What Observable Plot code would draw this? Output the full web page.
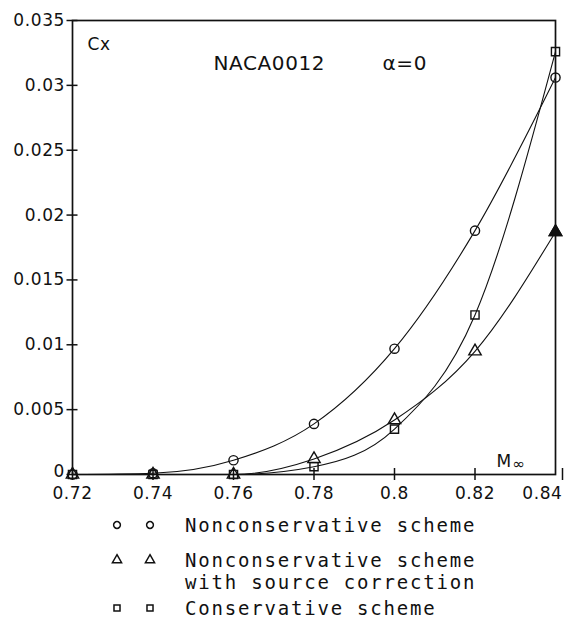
<!DOCTYPE html>
<html><head><meta charset="utf-8">
<script src="https://cdn.jsdelivr.net/npm/d3@7"></script>
<script src="https://cdn.jsdelivr.net/npm/@observablehq/plot@0.6"></script>
<style>
body{margin:0;background:#fff;}
#wrap{position:relative;width:571px;height:623px;overflow:hidden;background:#fff;}
#chart{position:absolute;left:0;top:0;}
#legend{position:absolute;left:0;top:505px;width:571px;height:118px;font-family:"DejaVu Sans Mono",monospace;font-size:19px;letter-spacing:1.8px;color:#111;}
.sym{position:absolute;}
.lab{position:absolute;left:185px;white-space:pre;line-height:22px;}
</style>
</head><body>
<div id="wrap"><div id="chart"></div><div id="legend"></div></div>
<script>
// ---- data ----
const mach = [0.72, 0.74, 0.76, 0.78, 0.80, 0.82, 0.84];
const cxNonconservative = [0, 0.0001, 0.0011, 0.0039, 0.0097, 0.0188, 0.0306];
const cxSourceCorrection = [0, 0, 0, 0.0012, 0.0042, 0.0095, 0.0187];
const cxConservative = [0, 0, 0, 0.0006, 0.0035, 0.0123, 0.0326];
const seriesNames = ["Nonconservative scheme", "Nonconservative scheme\nwith source correction", "Conservative scheme"];
const seriesSymbols = ["circle", "triangle", "square"];
const xTicks = [0.72, 0.74, 0.76, 0.78, 0.80, 0.82, 0.84];
const xTickLabels = ["0.72", "0.74", "0.76", "0.78", "0.8", "0.82", "0.84"];
const yTicks = [0, 0.005, 0.01, 0.015, 0.02, 0.025, 0.03, 0.035];
const yTickLabels = ["0", "0.005", "0.01", "0.015", "0.02", "0.025", "0.03", "0.035"];
const titleText = "NACA0012";
const alphaText = "α=0";
const yName = "Cx";
const xName = "M";
const xSub = "∞";

const seriesValues = [cxNonconservative, cxSourceCorrection, cxConservative];
const data = seriesValues.flatMap((vals, s) => vals.map((v, i) => ({x: mach[i], y: v, series: seriesNames[s]})));
const lastX = d3.max(mach);
const filled = data.filter(d => d.series === seriesNames[1] && d.x === lastX);
const xTicksInner = xTicks.filter(t => t !== lastX);
const xTicksLast = xTicks.filter(t => t === lastX);
const yTicksZero = yTicks.filter(t => t === 0);

const ink = "#111";
const xFmt = d => xTickLabels[xTicks.indexOf(d)];
const yFmt = d => yTickLabels[yTicks.indexOf(d)];
const chart = Plot.plot({
  width: 571, height: 505,
  marginLeft: 72, marginRight: 16, marginTop: 20, marginBottom: 31,
  x: {domain: [0.72, 0.84], label: null},
  y: {domain: [0, 0.035], label: null},
  symbol: {domain: seriesNames, range: seriesSymbols},
  style: {fontFamily: "DejaVu Sans", fontSize: "17px", color: ink, background: "white", letterSpacing: "0.6px"},
  marks: [
    Plot.frame({stroke: ink, strokeWidth: 1.7}),
    Plot.axisY(yTicks, {tickSize: 11, dx: 5.5, tickPadding: 2, strokeWidth: 1.5, label: null,
      tickFormat: d => d === 0 ? "" : yFmt(d)}),
    Plot.axisY(yTicksZero, {tickSize: 0, dx: -5.5, dy: -3, tickPadding: 2, strokeWidth: 0, label: null, tickFormat: yFmt}),
    Plot.axisX(xTicksInner, {tickSize: 12, dy: -6, tickPadding: 6, strokeWidth: 1.5, label: null, tickFormat: xFmt}),
    Plot.axisX(xTicksLast, {tickSize: 12, dy: -6, tickPadding: 6, strokeWidth: 1.5, label: null, tickFormat: xFmt, textAnchor: "end", dx: 7}),
    Plot.line(data, {x: "x", y: "y", z: "series", curve: "monotone-x", stroke: ink, strokeWidth: 1.1}),
    Plot.dot(data, {x: "x", y: "y", symbol: "series", r: 4.6, stroke: ink, strokeWidth: 1.4, fill: "none"}),
    Plot.dot(filled, {x: "x", y: "y", symbol: "series", r: 4.6, stroke: ink, strokeWidth: 1.4, fill: ink}),
    Plot.text([yName], {text: d => d, frameAnchor: "top-left", dx: 15, dy: 17, textAnchor: "start", lineAnchor: "top", fontSize: 17}),
    Plot.text([titleText], {text: d => d, frameAnchor: "top-left", dx: 141, dy: 35, textAnchor: "start", lineAnchor: "top", fontSize: 20, letterSpacing: "1.2px"}),
    Plot.text([alphaText], {text: d => d, frameAnchor: "top-left", dx: 310, dy: 35, textAnchor: "start", lineAnchor: "top", fontSize: 20}),
    Plot.text([xName], {text: d => d, frameAnchor: "bottom-left", dx: 424, dy: -8, textAnchor: "start", lineAnchor: "bottom", fontSize: 17, letterSpacing: "0px"}),
    Plot.text([xSub], {text: d => d, frameAnchor: "bottom-left", dx: 440, dy: -6, textAnchor: "start", lineAnchor: "bottom", fontSize: 15, letterSpacing: "0px"})
  ]
});
document.getElementById("chart").appendChild(chart);

// ---- legend below the chart ----
const legend = document.getElementById("legend");
const rowCenters = [20, 55, 103];
const symX = [117, 150];
const symMap = {circle: d3.symbolCircle, triangle: d3.symbolTriangle, square: d3.symbolSquare};
const symArea = 3.4 * 3.4 * Math.PI;
seriesNames.forEach((name, s) => {
  const cy = rowCenters[s];
  symX.forEach(cx => {
    const svg = d3.create("svg").attr("class", "sym").attr("width", 14).attr("height", 14)
      .style("left", (cx - 7) + "px").style("top", (cy - 7) + "px");
    svg.append("path").attr("transform", "translate(7,7)")
      .attr("d", d3.symbol(symMap[seriesSymbols[s]], symArea)())
      .attr("fill", "none").attr("stroke", ink).attr("stroke-width", 1.5);
    legend.appendChild(svg.node());
  });
  const lab = document.createElement("div");
  lab.className = "lab";
  lab.textContent = name;
  lab.style.top = (cy - 11) + "px";
  legend.appendChild(lab);
});
</script>
</body></html>
